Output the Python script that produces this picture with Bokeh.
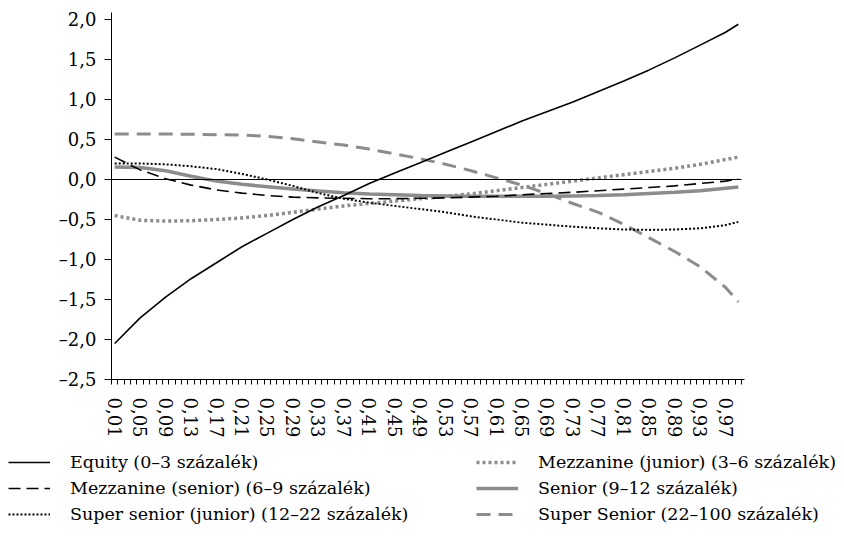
from bokeh.plotting import figure
from bokeh.models import FixedTicker, Legend, LegendItem, Range1d, LinearAxis
from bokeh.embed import file_html
from bokeh.resources import INLINE

# ---- data ----
x = [0.01, 0.05, 0.09, 0.13, 0.17, 0.21, 0.25, 0.29, 0.33, 0.37, 0.41, 0.45, 0.49,
     0.53, 0.57, 0.61, 0.65, 0.69, 0.73, 0.77, 0.81, 0.85, 0.89, 0.93, 0.97, 0.99]

equity = [-2.05, -1.73, -1.47, -1.24, -1.04, -0.84, -0.67, -0.50, -0.34, -0.20, -0.05, 0.08, 0.21,
          0.34, 0.47, 0.60, 0.73, 0.85, 0.97, 1.10, 1.23, 1.37, 1.52, 1.68, 1.84, 1.94]

mezz_junior = [-0.45, -0.51, -0.52, -0.515, -0.50, -0.48, -0.45, -0.41, -0.37, -0.33, -0.30, -0.27, -0.24,
               -0.21, -0.18, -0.14, -0.10, -0.06, -0.02, 0.02, 0.06, 0.10, 0.14, 0.19, 0.25, 0.28]

mezz_senior = [0.28, 0.12, 0.01, -0.07, -0.13, -0.17, -0.20, -0.22, -0.23, -0.235, -0.24, -0.24, -0.235,
               -0.23, -0.22, -0.21, -0.19, -0.175, -0.16, -0.14, -0.12, -0.10, -0.08, -0.05, -0.02, 0.01]

senior = [0.155, 0.15, 0.11, 0.04, -0.02, -0.06, -0.09, -0.12, -0.145, -0.165, -0.18, -0.19, -0.20,
          -0.205, -0.21, -0.21, -0.21, -0.21, -0.205, -0.20, -0.19, -0.175, -0.16, -0.14, -0.11, -0.095]

super_senior_junior = [0.20, 0.20, 0.19, 0.165, 0.13, 0.07, 0.00, -0.08, -0.17, -0.24, -0.29, -0.33, -0.37,
                       -0.41, -0.46, -0.50, -0.54, -0.565, -0.59, -0.61, -0.625, -0.63, -0.625, -0.61, -0.57, -0.53]

super_senior = [0.57, 0.57, 0.57, 0.565, 0.56, 0.555, 0.54, 0.51, 0.47, 0.43, 0.38, 0.32, 0.26,
                0.19, 0.11, 0.02, -0.07, -0.18, -0.30, -0.41, -0.56, -0.73, -0.90, -1.09, -1.35, -1.53]

series_labels = ["Equity (0–3 százalék)", "Mezzanine (junior) (3–6 százalék)",
                 "Mezzanine (senior) (6–9 százalék)", "Senior (9–12 százalék)",
                 "Super senior (junior) (12–22 százalék)", "Super Senior (22–100 százalék)"]

x_tick_values = [0.01, 0.05, 0.09, 0.13, 0.17, 0.21, 0.25, 0.29, 0.33, 0.37, 0.41, 0.45, 0.49,
                 0.53, 0.57, 0.61, 0.65, 0.69, 0.73, 0.77, 0.81, 0.85, 0.89, 0.93, 0.97]
x_tick_labels = ["0,01", "0,05", "0,09", "0,13", "0,17", "0,21", "0,25", "0,29", "0,33", "0,37",
                 "0,41", "0,45", "0,49", "0,53", "0,57", "0,61", "0,65", "0,69", "0,73", "0,77",
                 "0,81", "0,85", "0,89", "0,93", "0,97"]
y_tick_values = [-2.5, -2.0, -1.5, -1.0, -0.5, 0.0, 0.5, 1.0, 1.5, 2.0]
y_tick_labels = ["–2,5", "–2,0", "–1,5", "–1,0", "–0,5", "0,0", "0,5", "1,0", "1,5", "2,0"]

FONT = "DejaVu Serif"
FS = "18px"
LEG_FS = "17.5px"
GRAY = "#8c8c8c"

STY = {
    "eq": ("black", 1.6, "solid"),
    "mj": (GRAY, 3.5, "3 3"),
    "ms": ("black", 1.6, "12 6"),
    "se": (GRAY, 3.5, "solid"),
    "ssj": ("black", 2, "2 2"),
    "ss": (GRAY, 3, "14 8"),
}

# ---- geometry: the frame covers the whole canvas; axes sit at fixed data locations ----
W, H = 844, 536
X0, X1 = 0.005, 0.995          # first / last category boundary
Y0, Y1 = -2.5, 2.09            # y axis extent
PX_LEFT, PX_RIGHT = 111, 741   # pixel position of X0, X1
PX_BOTTOM = 379                # pixel row of Y0
KX = (PX_RIGHT - PX_LEFT) / (X1 - X0)
KY = 80.0
xr = Range1d(X0 - PX_LEFT / KX, X0 + (W - PX_LEFT) / KX)
yr = Range1d(Y0 - (H - PX_BOTTOM) / KY, Y0 + PX_BOTTOM / KY)

p = figure(width=W, height=H, output_backend="svg", toolbar_location=None,
           x_range=xr, y_range=yr, x_axis_location=None, y_axis_location=None,
           min_border_left=0, min_border_right=0, min_border_top=0, min_border_bottom=0)
p.outline_line_color = None
p.grid.grid_line_color = None

boundaries = [round(X0 + 0.01 * k, 3) for k in range(100)]

xa = LinearAxis(fixed_location=Y0, bounds=(X0, 1.0),
                ticker=FixedTicker(ticks=x_tick_values, minor_ticks=boundaries))
xa.major_label_overrides = {v: s for v, s in zip(x_tick_values, x_tick_labels)}
xa.major_label_orientation = "vertical"
xa.major_tick_out = 0
xa.major_tick_in = 0
xa.minor_tick_out = 5
xa.minor_tick_in = 0
xa.minor_tick_line_color = "black"
xa.axis_line_color = "black"
xa.major_label_standoff = 13
xa.major_label_text_font = FONT
xa.major_label_text_font_size = FS
xa.major_label_text_color = "black"
p.add_layout(xa, "below")

ya = LinearAxis(fixed_location=X0, bounds=(Y0, Y1),
                ticker=FixedTicker(ticks=y_tick_values, minor_ticks=[]))
ya.major_label_overrides = {v: s for v, s in zip(y_tick_values, y_tick_labels)}
ya.major_tick_out = 7
ya.major_tick_in = 0
ya.minor_tick_out = 0
ya.minor_tick_in = 0
ya.axis_line_color = "black"
ya.major_tick_line_color = "black"
ya.major_label_standoff = 8
ya.major_label_text_font = FONT
ya.major_label_text_font_size = FS
ya.major_label_text_color = "black"
p.add_layout(ya, "left")

# zero line: a bare axis line at y = 0
za = LinearAxis(fixed_location=0, bounds=(X0, X1), ticker=FixedTicker(ticks=[], minor_ticks=[]))
za.axis_line_color = "black"
za.major_tick_line_color = None
za.minor_tick_line_color = None
p.add_layout(za, "below")

rend = {}
series = [("mj", mezz_junior), ("se", senior), ("ss", super_senior),
          ("ms", mezz_senior), ("ssj", super_senior_junior), ("eq", equity)]
for key, ys in series:
    c, w, d = STY[key]
    rend[key] = p.line(x, ys, line_color=c, line_width=w, line_dash=d)


def make_legend(items, loc):
    lg = Legend(items=items, location=loc, orientation="vertical")
    lg.label_text_font = FONT
    lg.label_text_font_size = LEG_FS
    lg.label_text_color = "black"
    lg.glyph_width = 42
    lg.glyph_height = 20
    lg.label_height = 20
    lg.label_standoff = 20
    lg.spacing = 6
    lg.padding = 0
    lg.margin = 0
    lg.border_line_color = None
    lg.background_fill_alpha = 0
    return lg


leg1 = make_legend([LegendItem(label=series_labels[0], renderers=[rend["eq"]]),
                    LegendItem(label=series_labels[2], renderers=[rend["ms"]]),
                    LegendItem(label=series_labels[4], renderers=[rend["ssj"]])], (8, 12))
leg2 = make_legend([LegendItem(label=series_labels[1], renderers=[rend["mj"]]),
                    LegendItem(label=series_labels[3], renderers=[rend["se"]]),
                    LegendItem(label=series_labels[5], renderers=[rend["ss"]])], (476, 12))
p.add_layout(leg1)
p.add_layout(leg2)

open("out.html", "w").write(file_html(p, INLINE))
